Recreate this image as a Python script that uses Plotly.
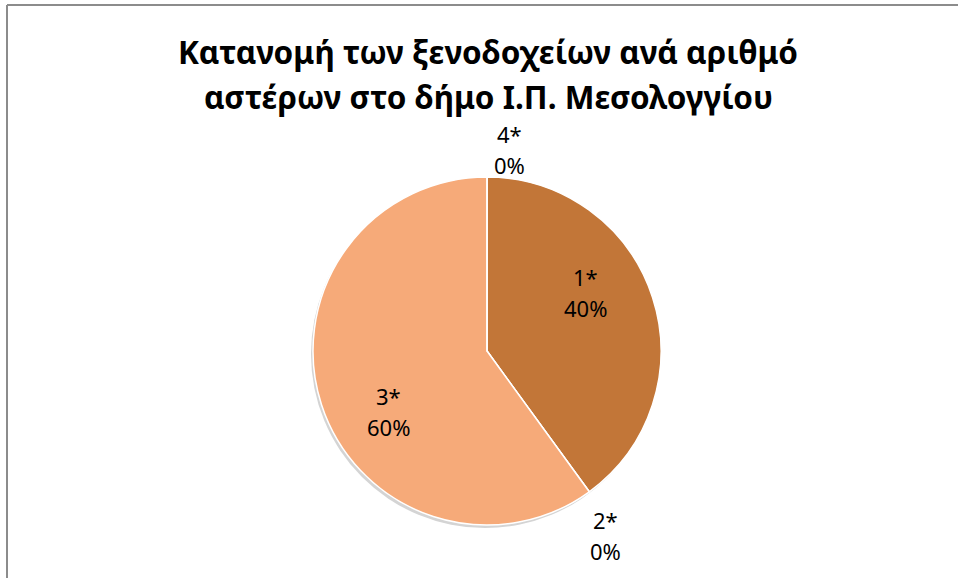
import math
import plotly.graph_objects as go

# ---- data ----
categories = ["1*", "2*", "3*", "4*"]
values = [40, 0, 60, 0]
colors = ["#C27638", "#F3A06C", "#F6AA79", "#E0904F"]
title_lines = ["Κατανομή των ξενοδοχείων ανά αριθμό", "αστέρων στο δήμο Ι.Π. Μεσολογγίου"]

W, H = 958, 578
cx, cy, r = 487, 351, 174  # pie centre / radius in px
FONT = "Noto Sans"
LINE_GAP = 31

total = sum(values)
pct = [v / total for v in values]


def dom(cx, cy, r):
    return dict(x=[(cx - r) / W, (cx + r) / W], y=[(H - cy - r) / H, (H - cy + r) / H])


fig = go.Figure()
# soft shadow
fig.add_trace(go.Pie(
    values=[1], labels=["s"], domain=dom(cx - 2, cy + 3, r),
    marker=dict(colors=["#d4d4d4"], line=dict(width=0)),
    textinfo="none", hoverinfo="skip", showlegend=False, sort=False,
))
fig.add_trace(go.Pie(
    labels=categories, values=values,
    textinfo="none", sort=False, direction="clockwise", rotation=0,
    marker=dict(colors=colors, line=dict(color="white", width=1.5)),
    domain=dom(cx, cy, r), showlegend=False,
))

# data labels placed from the slice angles
cum = 0
annotations = []
for c, v, p in zip(categories, values, pct):
    start = cum
    cum += p
    if v == 0:
        ang = math.radians(start * 360 + 4)
        R = r * 1.2
        ox, oy = 8, 7
    else:
        ang = math.radians((start + p / 2) * 360 - 13)
        R = r * 0.66
        ox, oy = 0, 1
    x = cx + R * math.sin(ang) + ox
    y = cy - R * math.cos(ang) + oy
    for k, t in enumerate([c, f"{round(p*100)}%"]):
        ly = y + (k - 0.5) * LINE_GAP
        annotations.append(dict(
            x=x / W, y=1 - ly / H, xref="paper", yref="paper",
            text=t, showarrow=False,
            font=dict(family=FONT, size=22, color="black"),
            xanchor="center", yanchor="middle",
        ))

for line, ty in zip(title_lines, [51, 96]):
    annotations.append(dict(
        x=488 / W, y=1 - ty / H, xref="paper", yref="paper",
        text="<b>" + line + "</b>", showarrow=False,
        font=dict(family=FONT, size=31.5, color="black"),
        xanchor="center", yanchor="middle",
    ))

fig.update_layout(
    width=W, height=H, margin=dict(l=0, r=0, t=0, b=0),
    paper_bgcolor="white", plot_bgcolor="white",
    annotations=annotations,
    shapes=[
        dict(type="line", xref="paper", yref="paper", x0=7 / W, x1=1, y0=1 - 5 / H, y1=1 - 5 / H,
             line=dict(color="#8c8c8c", width=2)),
        dict(type="line", xref="paper", yref="paper", x0=7 / W, x1=7 / W, y0=0, y1=1 - 5 / H,
             line=dict(color="#8c8c8c", width=2)),
    ],
)
fig.write_html("out.html", config={"displayModeBar": False},
               post_script="document.body.style.margin='0';")
